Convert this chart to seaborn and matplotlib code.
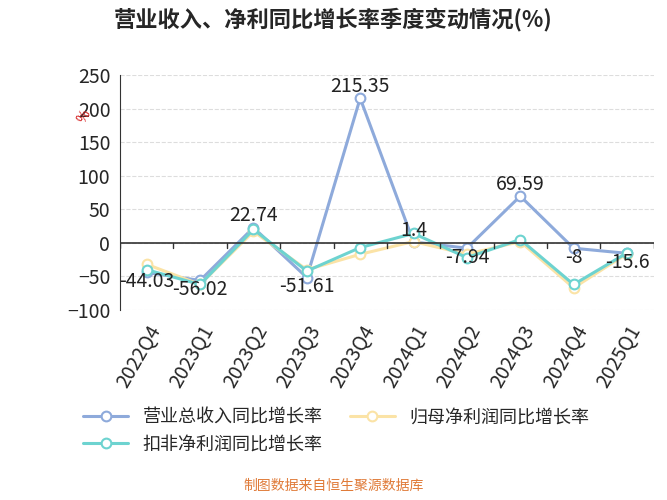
import numpy as np
import pandas as pd
import seaborn as sns
import matplotlib.pyplot as plt

quarters = ['2022Q4', '2023Q1', '2023Q2', '2023Q3', '2023Q4', '2024Q1', '2024Q2', '2024Q3', '2024Q4', '2025Q1']
revenue = [-44.03, -56.02, 22.74, -51.61, 215.35, 1.4, -7.94, 69.59, -8, -15.6]
net_profit = [-32, -62, 17, -40, -17, 2, -17, 2, -67, -16]
deducted = [-40, -62, 20, -42, -7, 14, -22, 5, -62, -15]
names = ['营业总收入同比增长率', '归母净利润同比增长率', '扣非净利润同比增长率']
colors = ['#8eaadb', '#fbe3a6', '#6dd3d0']

sns.set_style('white')
plt.rcParams['font.family'] = ['Noto Sans CJK SC', 'DejaVu Sans']

df = pd.DataFrame({'q': quarters * 3,
                   'v': revenue + net_profit + deducted,
                   's': [names[0]] * 10 + [names[1]] * 10 + [names[2]] * 10})
df['x'] = np.tile(np.arange(len(quarters)), 3)

fig = plt.figure(figsize=(6.67, 5.0), dpi=100)
ax = fig.add_axes([0.18, 0.38, 0.80, 0.47])
for name, c in zip(names, colors):
    sub = df[df['s'] == name]
    sns.lineplot(data=sub, x='x', y='v', ax=ax, color=c, lw=2.2, marker='o',
                 markersize=7, markerfacecolor='white', markeredgecolor=c,
                 markeredgewidth=1.5, label=name, legend=False)

for i, v in enumerate(revenue):
    ax.text(i, v + 2, f'{v:g}', ha='center', va='bottom' if v > 0 else 'top',
            fontsize=14, color='#222222')

ax.set_xlim(-0.5, len(quarters) - 0.5)
ax.set_ylim(-100, 250)
ax.set_yticks(range(-100, 251, 50))
ax.set_xticks(range(len(quarters)))
ax.set_xticklabels(quarters, rotation=60, ha='right', rotation_mode='anchor', fontsize=14)
ax.tick_params(axis='y', labelsize=14)
ax.tick_params(axis='x', length=0, pad=8)
ax.set_xlabel('')
ax.set_ylabel('')
ax.yaxis.grid(True, ls='--', color='#dddddd')
for s in ['top', 'right', 'bottom']:
    ax.spines[s].set_visible(False)
ax.spines['left'].set_color('#333333')
ax.axhline(0, color='#333333', lw=1.2)
for i in range(len(quarters) + 1):
    ax.plot([i - 0.5, i - 0.5], [0, -8], color='#333333', lw=1)
ax.text(-0.085, 0.8, '%', transform=ax.transAxes, color='#d62728', rotation=60, fontsize=10)

fig.suptitle('营业收入、净利同比增长率季度变动情况(%)', y=0.985, fontsize=16, fontweight='bold')
handles, labels = ax.get_legend_handles_labels()
order = [0, 2, 1]
fig.legend([handles[i] for i in order], [labels[i] for i in order],
           loc='upper left', bbox_to_anchor=(0.1, 0.215), ncol=2,
           frameon=False, fontsize=13, handlelength=2.5, columnspacing=1.5)
fig.text(0.5, 0.02, '制图数据来自恒生聚源数据库', ha='center', fontsize=10, color='#e07b39')
fig.savefig('out.png', dpi=100)
